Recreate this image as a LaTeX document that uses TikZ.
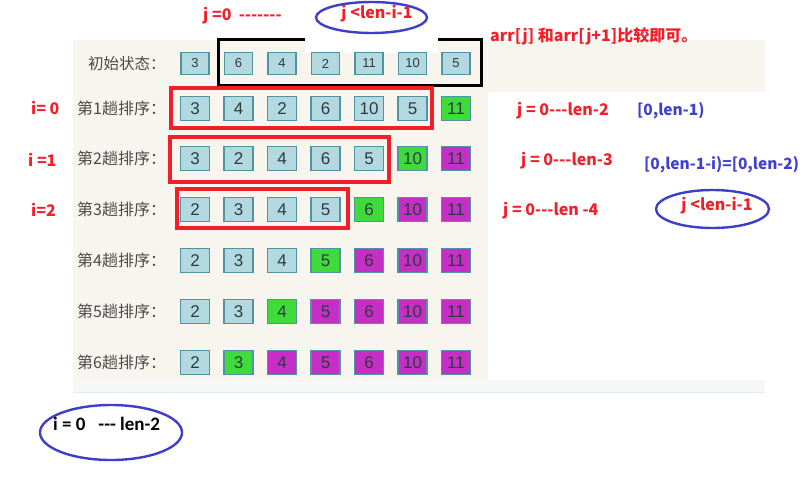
\documentclass[tikz,border=0pt]{standalone}
\usepackage{fontspec}
\usetikzlibrary{shapes.geometric}
\setmainfont{Noto Sans CJK SC}
\newfontfamily\cjk{Noto Sans CJK SC}
\newfontfamily\numfont{Liberation Sans}
\newfontfamily\calib{Carlito}
\definecolor{beige}{HTML}{F8F5EF}
\definecolor{cellblue}{HTML}{B3D9E0}
\definecolor{cellgreen}{HTML}{3FDB3A}
\definecolor{cellmag}{HTML}{C62FC6}
\definecolor{cellborder}{HTML}{4F93A5}
\definecolor{numtext}{HTML}{2E3B40}
\definecolor{lbl}{HTML}{4A4A4A}
\definecolor{redt}{HTML}{F0202A}
\definecolor{bluet}{HTML}{4040D0}
\definecolor{ellc}{HTML}{3E3EC8}
\tikzset{
  cell/.style={draw=cellborder, line width=1.3pt, minimum width=29pt, minimum height=24pt, inner sep=0pt,
    text=numtext, font=\numfont\fontsize{17}{17}\selectfont},
  small/.style={minimum width=28pt, minimum height=22pt, font=\numfont\fontsize{13}{13}\selectfont},
  bc/.style={fill=cellblue},
  gc/.style={fill=cellgreen},
  mc/.style={fill=cellmag},
  rowlbl/.style={anchor=west, inner sep=0pt, text=lbl, font=\cjk\fontsize{16}{16}\selectfont},
  redtxt/.style={anchor=west, inner sep=0pt, text=redt, font=\cjk\bfseries\fontsize{16}{16}\selectfont},
  bluetxt/.style={anchor=west, inner sep=0pt, text=bluet, font=\cjk\bfseries\fontsize{15.5}{15.5}\selectfont},
  redbox/.style={draw=redt, line width=3.2pt},
  oval/.style={draw=ellc, line width=2.4pt}
}
\begin{document}
\begin{tikzpicture}[x=1pt,y=-1pt]
\useasboundingbox (0,0) rectangle (802,476);
% background panel
\fill[beige] (73,40) rectangle (765,92);
\fill[beige] (73,92) rectangle (488,380);
\fill[black!3] (73,380) rectangle (765,392);
\draw[color={rgb,255:red,222;green,240;blue,238}, line width=1pt] (73,392.5) -- (765,392.5);
% black box
\draw[black, line width=3pt] (218,40) rectangle (481,86);
\fill[white] (305,0) rectangle (438,53);
% red boxes
\draw[redbox] (171,88) rectangle (432,128);
\draw[redbox] (170,137) rectangle (389,182);
\draw[redbox] (177,189) rectangle (348,228);
% row labels
\node[rowlbl, font=\cjk\fontsize{15.5}{15.5}\selectfont] (l0) at (88,63.5) {初始状态：};
\node[rowlbl] (l1) at (77,108) {第1趟排序：};
\node[rowlbl] (l2) at (77,158.5) {第2趟排序：};
\node[rowlbl] (l3) at (77,209.5) {第3趟排序：};
\node[rowlbl] (l4) at (77,260.5) {第4趟排序：};
\node[rowlbl] (l5) at (77,311.5) {第5趟排序：};
\node[rowlbl] (l6) at (77,362.5) {第6趟排序：};
% cells
\foreach \v/\s [count=\k from 0] in {3/bc,6/bc,4/bc,2/bc,11/bc,10/bc,5/bc}
  \node[cell,small,\s] (c0-\k) at ({195+43.5*\k},63.5) {\v};
\foreach \v/\s [count=\k from 0] in {3/bc,4/bc,2/bc,6/bc,10/bc,5/bc,11/gc}
  \node[cell,\s] (c1-\k) at ({195+43.5*\k},108.5) {\v};
\foreach \v/\s [count=\k from 0] in {3/bc,2/bc,4/bc,6/bc,5/bc,10/gc,11/mc}
  \node[cell,\s] (c2-\k) at ({195+43.5*\k},158.5) {\v};
\foreach \v/\s [count=\k from 0] in {2/bc,3/bc,4/bc,5/bc,6/gc,10/mc,11/mc}
  \node[cell,\s] (c3-\k) at ({195+43.5*\k},209.5) {\v};
\foreach \v/\s [count=\k from 0] in {2/bc,3/bc,4/bc,5/gc,6/mc,10/mc,11/mc}
  \node[cell,\s] (c4-\k) at ({195+43.5*\k},260.5) {\v};
\foreach \v/\s [count=\k from 0] in {2/bc,3/bc,4/gc,5/mc,6/mc,10/mc,11/mc}
  \node[cell,\s] (c5-\k) at ({195+43.5*\k},311.5) {\v};
\foreach \v/\s [count=\k from 0] in {2/bc,3/gc,4/mc,5/mc,6/mc,10/mc,11/mc}
  \node[cell,\s] (c6-\k) at ({195+43.5*\k},362.5) {\v};
% annotations
\node[redtxt] (t1) at (203,16) {j =0 \ -------};
\node[oval, ellipse, minimum width=111pt, minimum height=31pt, inner sep=0pt] (e1) at (371.5,17.5) {};
\node[redtxt, anchor=center] (t2) at (377,14) {j <len-i-1};
\node[redtxt] (t3) at (490,36) {arr[j] 和arr[j+1]比较即可。};
\node[redtxt] (i0) at (31,108) {i= 0};
\node[redtxt] (i1) at (28,160) {i =1};
\node[redtxt] (i2) at (31,210) {i=2};
\node[redtxt] (j1) at (517,111) {j = 0---len-2};
\node[bluetxt] (b1) at (637,111) {[0,len-1)};
\node[redtxt] (j2) at (521,161) {j = 0---len-3};
\node[bluetxt] (b2) at (644,165) {[0,len-1-i)=[0,len-2)};
\node[redtxt] (j3) at (503,211) {j = 0---len -4};
\node[oval, ellipse, minimum width=113pt, minimum height=38pt, inner sep=0pt] (e2) at (712.5,209) {};
\node[redtxt, anchor=center] (t4) at (717,206) {j <len-i-1};
\node[oval, ellipse, minimum width=142pt, minimum height=55pt, inner sep=0pt] (e3) at (111,432.5) {};
\node[anchor=west, inner sep=0pt, font=\calib\bfseries\fontsize{19}{19}\selectfont] (t5) at (53,424) {i = 0 \ \ --- len-2};
\end{tikzpicture}
\end{document}
